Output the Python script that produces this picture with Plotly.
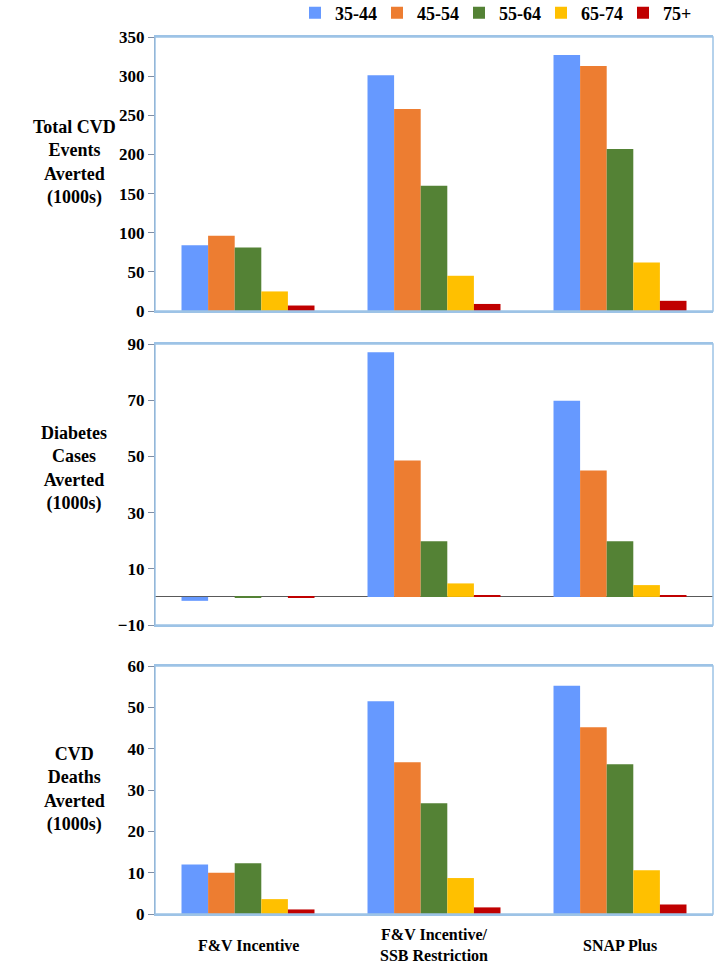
import plotly.graph_objects as go
from plotly.subplots import make_subplots

# ~~~ Data ~~~
policies = ['F&V Incentive', 'F&V Incentive/<br>SSB Restriction', 'SNAP Plus']
age_groups = ['35-44', '45-54', '55-64', '65-74', '75+']
colors = ['#6699FF', '#ED7D31', '#548235', '#FFC000', '#C00000']

# rows = age groups, columns = policies
cvd_events = [
    [84, 301, 327],
    [96, 258, 313],
    [81, 160, 207],
    [25, 45, 62],
    [7, 9, 13],
]
diabetes_cases = [
    [-1.4, 87.1, 69.8],
    [0.0, 48.5, 45.0],
    [-0.4, 19.8, 19.8],
    [0.0, 4.8, 4.2],
    [-0.2, 0.6, 0.6],
]
cvd_deaths = [
    [12.0, 51.5, 55.2],
    [10.0, 36.7, 45.2],
    [12.3, 26.8, 36.2],
    [3.6, 8.7, 10.6],
    [1.1, 1.6, 2.3],
]

panel_titles = ['Total CVD<br>Events<br>Averted<br>(1000s)',
                'Diabetes<br>Cases<br>Averted<br>(1000s)',
                'CVD<br>Deaths<br>Averted<br>(1000s)']

FONT = 'Liberation Serif'
W, H = 717, 976
# plot box in screen pixels: left 155, right 713, top 37, bottom 914
ML, MR, MT, MB = 155, 717 - 713, 37, 976 - 914
ph = H - MT - MB
pw = W - ML - MR


def py(screen_y):
    # screen row -> paper fraction
    return (H - MB - screen_y) / ph


def dom(top_px, bot_px):
    return [py(bot_px), py(top_px)]


fig = make_subplots(rows=3, cols=1, shared_xaxes=False)

for row, data in enumerate([cvd_events, diabetes_cases, cvd_deaths], start=1):
    for i, grp in enumerate(age_groups):
        fig.add_trace(go.Bar(x=policies, y=data[i], name=grp,
                             marker=dict(color=colors[i], line=dict(width=0)),
                             showlegend=(row == 1)),
                      row=row, col=1)

fig.update_layout(
    width=W, height=H,
    margin=dict(l=ML, r=MR, t=MT, b=MB, autoexpand=False),
    paper_bgcolor='white', plot_bgcolor='white',
    barmode='group', bargap=0.285, bargroupgap=0,
    font=dict(family=FONT, size=16, color='black'),
    legend=dict(orientation='h', x=1.0 - 8 / pw, xanchor='right',
                yref='container', y=1.0 - 13 / H, yanchor='middle',
                font=dict(family=FONT, size=18, color='black', weight='bold'),
                entrywidth=37, itemwidth=30, traceorder='normal',
                bgcolor='rgba(0,0,0,0)'),
    yaxis=dict(domain=dom(37, 311)),
    yaxis2=dict(domain=dom(344, 625)),
    yaxis3=dict(domain=dom(666, 914)),
)

frame = '#9DC3E6'
axis_col = '#7F8EA6'
for ax in ['xaxis', 'xaxis2', 'xaxis3']:
    fig.layout[ax].update(showline=True, linecolor=frame, linewidth=1.5, mirror=True,
                          showticklabels=False, ticks='', showgrid=False)

fig.update_yaxes(showgrid=False, zeroline=False, showline=True, linecolor=axis_col,
                 linewidth=1.2, ticks='outside', ticklen=6, tickcolor=axis_col,
                 tickfont=dict(family=FONT, size=17, color='black', weight='bold'))
fig.update_yaxes(range=[0, 350], dtick=50, row=1, col=1)
fig.update_yaxes(range=[-10, 90], tick0=-10, dtick=20, zeroline=True,
                 zerolinecolor='#595959', zerolinewidth=1.2, row=2, col=1)
fig.update_yaxes(range=[0, 60], dtick=10, row=3, col=1)

# light-blue top/right frame
for xr, yr in [('x domain', 'y domain'), ('x2 domain', 'y2 domain'), ('x3 domain', 'y3 domain')]:
    fig.add_shape(type='rect', xref=xr, yref=yr, x0=0, x1=1, y0=0, y1=1,
                  line=dict(color=frame, width=1.5), layer='above')

# panel titles
title_y = [162, 468, 789]
for txt, yp in zip(panel_titles, title_y):
    fig.add_annotation(text=txt, xref='paper', yref='paper',
                       x=(74 - ML) / pw, y=py(yp),
                       xanchor='center', yanchor='middle', showarrow=False, align='center',
                       font=dict(family=FONT, size=18, color='black', weight='bold'))

# category labels under the bottom panel
for p in policies:
    fig.add_annotation(text=p, xref='x3', yref='paper', x=p, y=py(945),
                       xanchor='center', yanchor='middle', showarrow=False, align='center',
                       font=dict(family=FONT, size=16, color='black', weight='bold'))

# drop the page's default body margin so the figure sits at the window corner
fig.write_html('out.html', config={'displayModeBar': False},
               post_script="document.body.style.margin='0px';")
